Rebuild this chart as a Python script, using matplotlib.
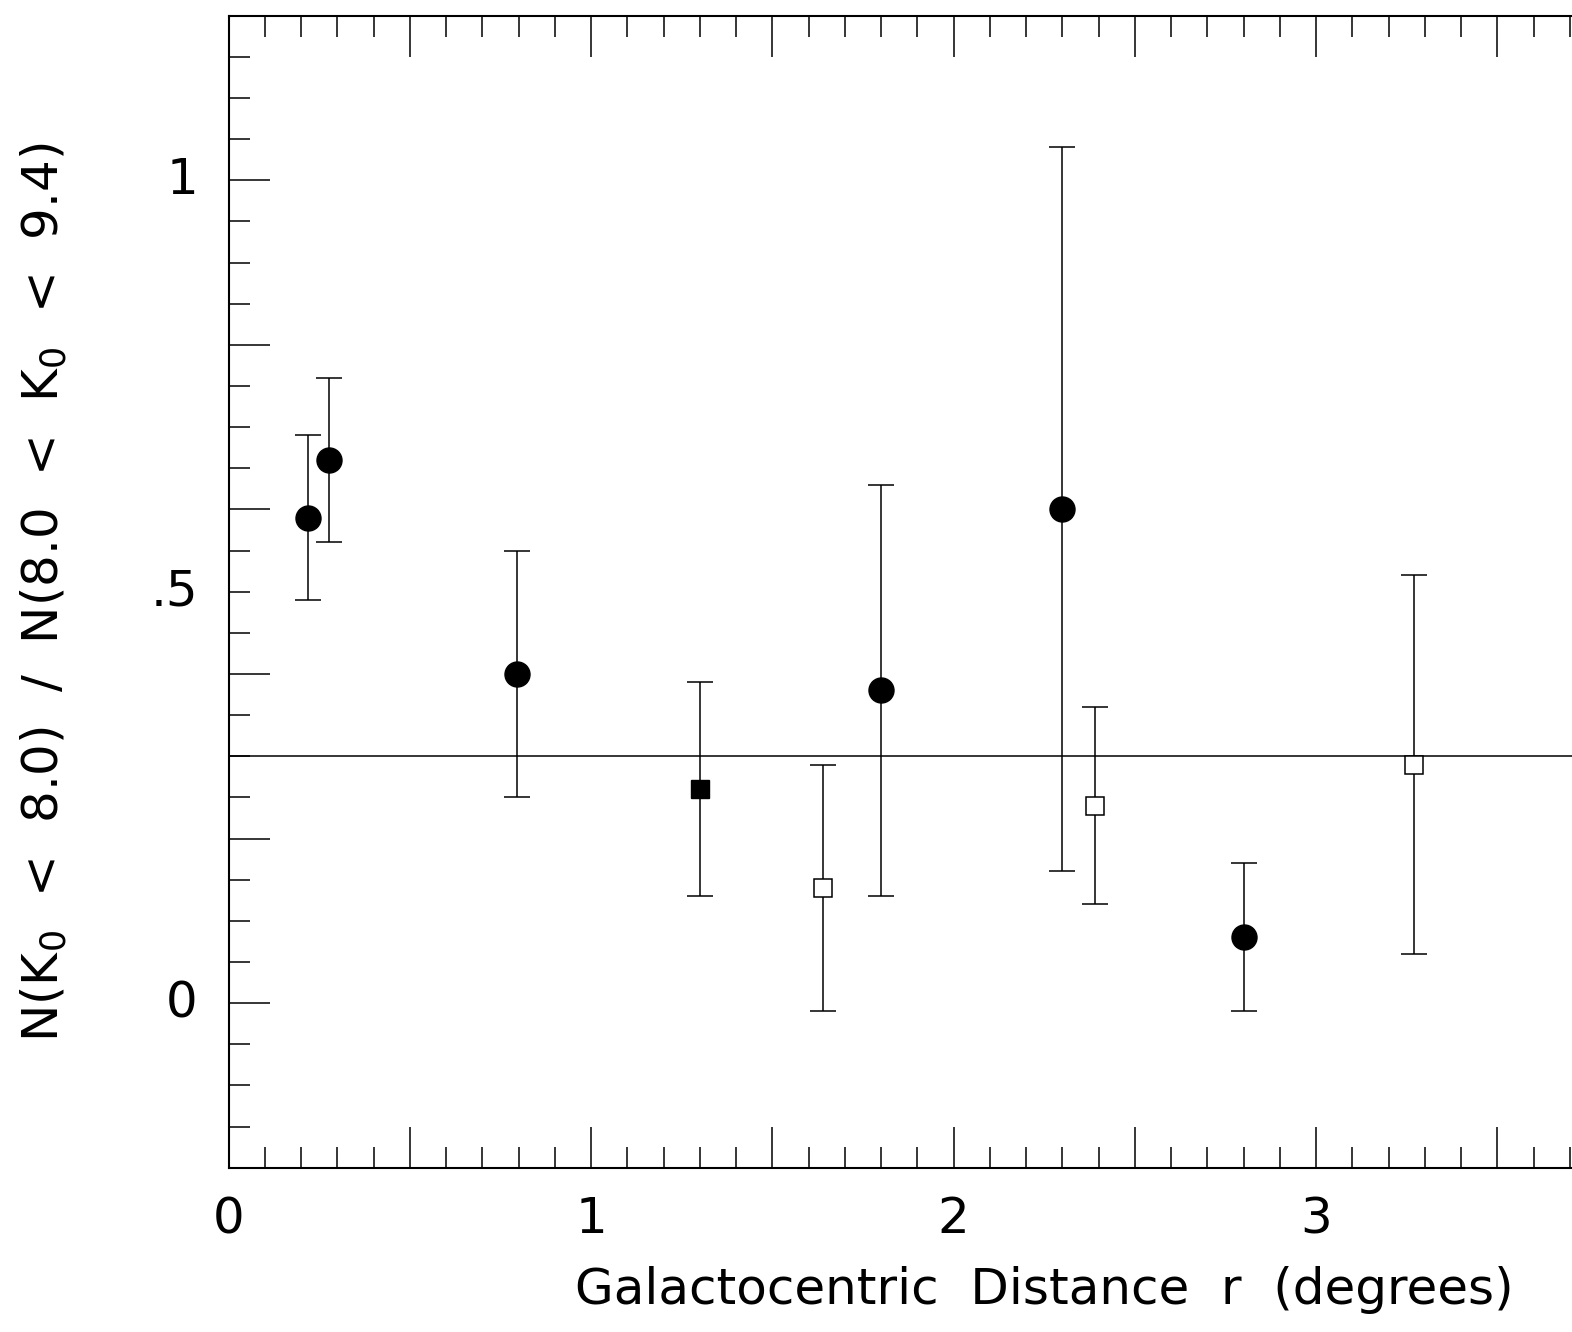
import matplotlib
matplotlib.use('Agg')
import matplotlib.pyplot as plt
from matplotlib.ticker import MultipleLocator, FuncFormatter

# filled circles
circ_r = [0.218, 0.278, 0.795, 1.80, 2.30, 2.80]
circ_v = [0.59, 0.66, 0.40, 0.38, 0.60, 0.08]
circ_e = [0.10, 0.10, 0.15, 0.25, 0.44, 0.09]

# filled square
fsq_r = [1.30]
fsq_v = [0.26]
fsq_e = [0.13]

# open squares
osq_r = [1.64, 2.39, 3.27]
osq_v = [0.14, 0.24, 0.29]
osq_e = [0.15, 0.12, 0.23]

mean_level = 0.30

x_labels = {0: '0', 1: '1', 2: '2', 3: '3'}
y_labels = {0.0: '0', 0.5: '.5', 1.0: '1'}

plt.rcParams['font.family'] = ['DejaVu Sans']
plt.rcParams['mathtext.default'] = 'regular'

fig = plt.figure(figsize=(15.72, 13.32), dpi=100)
ax = fig.add_axes([0.14536, 0.12335, 1.03769, 0.86486])

ebkw = dict(ecolor='black', elinewidth=1.1, capsize=9.7, capthick=1.1, linestyle='none')
ax.errorbar(circ_r, circ_v, yerr=circ_e, marker='o', ms=18, mfc='black', mec='black', **ebkw)
ax.errorbar(fsq_r, fsq_v, yerr=fsq_e, marker='s', ms=13.5, mfc='black', mec='black', **ebkw)
ax.errorbar(osq_r, osq_v, yerr=osq_e, marker='s', ms=13.5, mfc='white', mec='black', mew=1.1, **ebkw)
ax.axhline(mean_level, color='black', lw=1.1)

ax.set_xlim(0, 4.5)
ax.set_ylim(-0.2, 1.2)

def xfmt(v, p):
    k = int(round(v))
    if abs(v - k) < 1e-6 and k in x_labels:
        return x_labels[k]
    return ''

ax.xaxis.set_major_locator(MultipleLocator(0.5))
ax.xaxis.set_minor_locator(MultipleLocator(0.1))
ax.xaxis.set_major_formatter(FuncFormatter(xfmt))
ax.yaxis.set_major_locator(MultipleLocator(0.2))
ax.yaxis.set_minor_locator(MultipleLocator(0.05))
ax.yaxis.set_major_formatter(FuncFormatter(lambda v, p: ''))

ax.tick_params(which='both', direction='in', top=True, right=True, width=1.1, colors='black')
ax.tick_params(which='major', length=29.5)
ax.tick_params(which='minor', length=15)
ax.tick_params(axis='x', which='major', labelsize=36, pad=20)
for s in ax.spines.values():
    s.set_linewidth(1.5)

for val, txt in y_labels.items():
    ax.annotate(txt, xy=(0, val), xycoords=('axes fraction', 'data'),
                xytext=(-22, 0), textcoords='offset points',
                ha='right', va='center', fontsize=36)

ax.set_xlabel('Galactocentric  Distance  r  (degrees)', fontsize=36)
ax.xaxis.set_label_coords(0.5, -0.085)
ax.set_ylabel('N(K$_0$  <  8.0)  /  N(8.0  <  K$_0$  <  9.4)', fontsize=36)
ax.yaxis.set_label_coords(-0.098, 0.5)

fig.savefig('out.png', dpi=100)
